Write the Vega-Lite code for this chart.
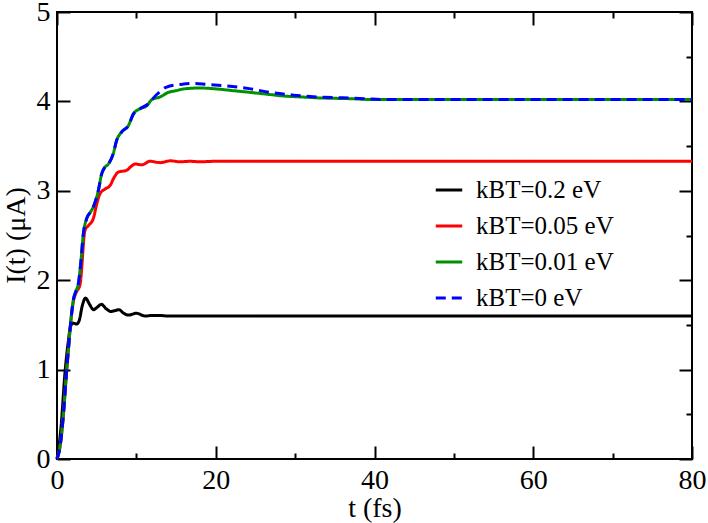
{
  "$schema": "https://vega.github.io/schema/vega-lite/v6.json",
  "width": 635,
  "height": 447,
  "autosize": "none",
  "padding": {"left": 57, "top": 12, "right": 16, "bottom": 64},
  "background": "white",
  "config": {
    "font": "Liberation Serif",
    "view": {"stroke": "black", "strokeWidth": 2},
    "style": {
      "guide-label": {"font": "Liberation Serif", "fontSize": 28, "fill": "black"},
      "guide-title": {"font": "Liberation Serif", "fontSize": 28, "fill": "black", "fontWeight": "normal"}
    },
    "axis": {
      "domain": false,
      "grid": false,
      "labelFlush": false,
      "tickColor": "black",
      "tickWidth": 2,
      "labelColor": "black",
      "titleColor": "black",
      "labelFont": "Liberation Serif",
      "titleFont": "Liberation Serif",
      "labelFontSize": 28,
      "titleFontSize": 28,
      "titleFontWeight": "normal"
    },
    "legend": {
      "labelFont": "Liberation Serif",
      "labelFontSize": 25,
      "labelColor": "black"
    }
  },
  "data": {
    "values": [
      {"t": 0, "I": 0, "T": "kBT=0.2 eV"},
      {"t": 0.5, "I": 0.35, "T": "kBT=0.2 eV"},
      {"t": 1.0, "I": 0.96, "T": "kBT=0.2 eV"},
      {"t": 1.4, "I": 1.3, "T": "kBT=0.2 eV"},
      {"t": 1.7, "I": 1.48, "T": "kBT=0.2 eV"},
      {"t": 2.0, "I": 1.52, "T": "kBT=0.2 eV"},
      {"t": 2.5, "I": 1.51, "T": "kBT=0.2 eV"},
      {"t": 2.8, "I": 1.55, "T": "kBT=0.2 eV"},
      {"t": 3.2, "I": 1.72, "T": "kBT=0.2 eV"},
      {"t": 3.6, "I": 1.8, "T": "kBT=0.2 eV"},
      {"t": 4.1, "I": 1.73, "T": "kBT=0.2 eV"},
      {"t": 4.6, "I": 1.67, "T": "kBT=0.2 eV"},
      {"t": 5.1, "I": 1.7, "T": "kBT=0.2 eV"},
      {"t": 5.6, "I": 1.73, "T": "kBT=0.2 eV"},
      {"t": 6.2, "I": 1.68, "T": "kBT=0.2 eV"},
      {"t": 6.8, "I": 1.65, "T": "kBT=0.2 eV"},
      {"t": 7.3, "I": 1.66, "T": "kBT=0.2 eV"},
      {"t": 7.8, "I": 1.67, "T": "kBT=0.2 eV"},
      {"t": 8.4, "I": 1.63, "T": "kBT=0.2 eV"},
      {"t": 9.0, "I": 1.61, "T": "kBT=0.2 eV"},
      {"t": 10.0, "I": 1.63, "T": "kBT=0.2 eV"},
      {"t": 11.1, "I": 1.6, "T": "kBT=0.2 eV"},
      {"t": 12.0, "I": 1.605, "T": "kBT=0.2 eV"},
      {"t": 13.0, "I": 1.605, "T": "kBT=0.2 eV"},
      {"t": 14.0, "I": 1.6, "T": "kBT=0.2 eV"},
      {"t": 20, "I": 1.6, "T": "kBT=0.2 eV"},
      {"t": 80, "I": 1.6, "T": "kBT=0.2 eV"},

      {"t": 0, "I": 0, "T": "kBT=0.05 eV"},
      {"t": 0.4, "I": 0.15, "T": "kBT=0.05 eV"},
      {"t": 0.8, "I": 0.49, "T": "kBT=0.05 eV"},
      {"t": 1.1, "I": 0.85, "T": "kBT=0.05 eV"},
      {"t": 1.43, "I": 1.22, "T": "kBT=0.05 eV"},
      {"t": 1.75, "I": 1.55, "T": "kBT=0.05 eV"},
      {"t": 2.06, "I": 1.76, "T": "kBT=0.05 eV"},
      {"t": 2.4, "I": 1.86, "T": "kBT=0.05 eV"},
      {"t": 2.9, "I": 1.95, "T": "kBT=0.05 eV"},
      {"t": 3.53, "I": 2.56, "T": "kBT=0.05 eV"},
      {"t": 3.95, "I": 2.61, "T": "kBT=0.05 eV"},
      {"t": 4.58, "I": 2.69, "T": "kBT=0.05 eV"},
      {"t": 5.0, "I": 2.85, "T": "kBT=0.05 eV"},
      {"t": 5.43, "I": 2.97, "T": "kBT=0.05 eV"},
      {"t": 6.06, "I": 3.02, "T": "kBT=0.05 eV"},
      {"t": 6.69, "I": 3.06, "T": "kBT=0.05 eV"},
      {"t": 7.2, "I": 3.15, "T": "kBT=0.05 eV"},
      {"t": 7.74, "I": 3.21, "T": "kBT=0.05 eV"},
      {"t": 8.79, "I": 3.23, "T": "kBT=0.05 eV"},
      {"t": 9.3, "I": 3.27, "T": "kBT=0.05 eV"},
      {"t": 9.84, "I": 3.3, "T": "kBT=0.05 eV"},
      {"t": 10.7, "I": 3.29, "T": "kBT=0.05 eV"},
      {"t": 11.7, "I": 3.33, "T": "kBT=0.05 eV"},
      {"t": 13.0, "I": 3.315, "T": "kBT=0.05 eV"},
      {"t": 14.3, "I": 3.335, "T": "kBT=0.05 eV"},
      {"t": 15.5, "I": 3.325, "T": "kBT=0.05 eV"},
      {"t": 16.8, "I": 3.33, "T": "kBT=0.05 eV"},
      {"t": 18.0, "I": 3.325, "T": "kBT=0.05 eV"},
      {"t": 20.0, "I": 3.33, "T": "kBT=0.05 eV"},
      {"t": 80, "I": 3.33, "T": "kBT=0.05 eV"},

      {"t": 0, "I": 0, "T": "kBT=0.01 eV"},
      {"t": 0.4, "I": 0.15, "T": "kBT=0.01 eV"},
      {"t": 0.8, "I": 0.49, "T": "kBT=0.01 eV"},
      {"t": 1.1, "I": 0.85, "T": "kBT=0.01 eV"},
      {"t": 1.43, "I": 1.22, "T": "kBT=0.01 eV"},
      {"t": 1.75, "I": 1.55, "T": "kBT=0.01 eV"},
      {"t": 2.06, "I": 1.78, "T": "kBT=0.01 eV"},
      {"t": 2.4, "I": 1.88, "T": "kBT=0.01 eV"},
      {"t": 2.69, "I": 1.96, "T": "kBT=0.01 eV"},
      {"t": 3.0, "I": 2.2, "T": "kBT=0.01 eV"},
      {"t": 3.32, "I": 2.52, "T": "kBT=0.01 eV"},
      {"t": 3.74, "I": 2.69, "T": "kBT=0.01 eV"},
      {"t": 4.2, "I": 2.76, "T": "kBT=0.01 eV"},
      {"t": 4.58, "I": 2.82, "T": "kBT=0.01 eV"},
      {"t": 5.2, "I": 3.0, "T": "kBT=0.01 eV"},
      {"t": 5.63, "I": 3.19, "T": "kBT=0.01 eV"},
      {"t": 6.0, "I": 3.26, "T": "kBT=0.01 eV"},
      {"t": 6.48, "I": 3.3, "T": "kBT=0.01 eV"},
      {"t": 7.1, "I": 3.42, "T": "kBT=0.01 eV"},
      {"t": 7.5, "I": 3.56, "T": "kBT=0.01 eV"},
      {"t": 8.16, "I": 3.66, "T": "kBT=0.01 eV"},
      {"t": 9.0, "I": 3.73, "T": "kBT=0.01 eV"},
      {"t": 9.63, "I": 3.86, "T": "kBT=0.01 eV"},
      {"t": 10.5, "I": 3.92, "T": "kBT=0.01 eV"},
      {"t": 11.3, "I": 3.95, "T": "kBT=0.01 eV"},
      {"t": 11.95, "I": 4.02, "T": "kBT=0.01 eV"},
      {"t": 13.0, "I": 4.05, "T": "kBT=0.01 eV"},
      {"t": 14.0, "I": 4.1, "T": "kBT=0.01 eV"},
      {"t": 15.0, "I": 4.12, "T": "kBT=0.01 eV"},
      {"t": 16.0, "I": 4.14, "T": "kBT=0.01 eV"},
      {"t": 18.0, "I": 4.15, "T": "kBT=0.01 eV"},
      {"t": 20.0, "I": 4.14, "T": "kBT=0.01 eV"},
      {"t": 22.2, "I": 4.12, "T": "kBT=0.01 eV"},
      {"t": 24.4, "I": 4.1, "T": "kBT=0.01 eV"},
      {"t": 26.5, "I": 4.08, "T": "kBT=0.01 eV"},
      {"t": 28.6, "I": 4.06, "T": "kBT=0.01 eV"},
      {"t": 30.7, "I": 4.05, "T": "kBT=0.01 eV"},
      {"t": 32.8, "I": 4.04, "T": "kBT=0.01 eV"},
      {"t": 37.0, "I": 4.03, "T": "kBT=0.01 eV"},
      {"t": 40.0, "I": 4.02, "T": "kBT=0.01 eV"},
      {"t": 80, "I": 4.02, "T": "kBT=0.01 eV"},

      {"t": 0, "I": 0, "T": "kBT=0 eV"},
      {"t": 0.4, "I": 0.15, "T": "kBT=0 eV"},
      {"t": 0.8, "I": 0.49, "T": "kBT=0 eV"},
      {"t": 1.1, "I": 0.85, "T": "kBT=0 eV"},
      {"t": 1.43, "I": 1.22, "T": "kBT=0 eV"},
      {"t": 1.75, "I": 1.55, "T": "kBT=0 eV"},
      {"t": 2.06, "I": 1.78, "T": "kBT=0 eV"},
      {"t": 2.4, "I": 1.88, "T": "kBT=0 eV"},
      {"t": 2.69, "I": 1.96, "T": "kBT=0 eV"},
      {"t": 3.0, "I": 2.2, "T": "kBT=0 eV"},
      {"t": 3.32, "I": 2.52, "T": "kBT=0 eV"},
      {"t": 3.74, "I": 2.69, "T": "kBT=0 eV"},
      {"t": 4.2, "I": 2.76, "T": "kBT=0 eV"},
      {"t": 4.58, "I": 2.82, "T": "kBT=0 eV"},
      {"t": 5.2, "I": 3.0, "T": "kBT=0 eV"},
      {"t": 5.63, "I": 3.19, "T": "kBT=0 eV"},
      {"t": 6.0, "I": 3.26, "T": "kBT=0 eV"},
      {"t": 6.48, "I": 3.3, "T": "kBT=0 eV"},
      {"t": 7.1, "I": 3.42, "T": "kBT=0 eV"},
      {"t": 7.5, "I": 3.56, "T": "kBT=0 eV"},
      {"t": 8.16, "I": 3.66, "T": "kBT=0 eV"},
      {"t": 9.0, "I": 3.73, "T": "kBT=0 eV"},
      {"t": 9.63, "I": 3.86, "T": "kBT=0 eV"},
      {"t": 10.5, "I": 3.92, "T": "kBT=0 eV"},
      {"t": 11.3, "I": 3.96, "T": "kBT=0 eV"},
      {"t": 12.6, "I": 4.08, "T": "kBT=0 eV"},
      {"t": 13.8, "I": 4.16, "T": "kBT=0 eV"},
      {"t": 15.6, "I": 4.19, "T": "kBT=0 eV"},
      {"t": 17.0, "I": 4.2, "T": "kBT=0 eV"},
      {"t": 18.9, "I": 4.19, "T": "kBT=0 eV"},
      {"t": 21.8, "I": 4.17, "T": "kBT=0 eV"},
      {"t": 24.4, "I": 4.14, "T": "kBT=0 eV"},
      {"t": 26.9, "I": 4.1, "T": "kBT=0 eV"},
      {"t": 29.8, "I": 4.07, "T": "kBT=0 eV"},
      {"t": 32.8, "I": 4.05, "T": "kBT=0 eV"},
      {"t": 36.0, "I": 4.04, "T": "kBT=0 eV"},
      {"t": 38.8, "I": 4.03, "T": "kBT=0 eV"},
      {"t": 42.0, "I": 4.02, "T": "kBT=0 eV"},
      {"t": 80, "I": 4.02, "T": "kBT=0 eV"}
    ]
  },
  "layer": [
    {
      "mark": {"type": "line", "strokeWidth": 3, "interpolate": "monotone"},
      "encoding": {
        "x": {
          "field": "t",
          "type": "quantitative",
          "scale": {"domain": [0, 80], "nice": false},
          "axis": {
            "orient": "bottom",
            "title": "t (fs)",
            "values": [0, 10, 20, 30, 40, 50, 60, 70, 80],
            "format": "d",
            "labelFlush": false,
            "labelFont": "Liberation Serif",
            "labelFontSize": 28,
            "labelExpr": "datum.value % 20 === 0 ? datum.label : ''",
            "tickSize": {"expr": "datum.value % 20 === 0 ? -13 : -6"},
            "labelPadding": 20,
            "titlePadding": 0
          }
        },
        "y": {
          "field": "I",
          "type": "quantitative",
          "scale": {"domain": [0, 5], "nice": false},
          "axis": {
            "orient": "left",
            "title": "I(t) (μA)",
            "values": [0, 0.5, 1, 1.5, 2, 2.5, 3, 3.5, 4, 4.5, 5],
            "format": "d",
            "labelFlush": false,
            "labelFont": "Liberation Serif",
            "labelFontSize": 28,
            "labelExpr": "datum.value % 1 === 0 ? datum.label : ''",
            "tickSize": {"expr": "datum.value % 1 === 0 ? -13 : -6"},
            "labelPadding": 20,
            "titleX": -27,
            "titleY": 223
          }
        },
        "color": {
          "field": "T",
          "type": "nominal",
          "title": null,
          "scale": {
            "domain": ["kBT=0.2 eV", "kBT=0.05 eV", "kBT=0.01 eV", "kBT=0 eV"],
            "range": ["#000000", "#ff0000", "#009000", "#0000ff"]
          },
          "legend": {
            "orient": "none",
            "legendX": 377,
            "legendY": 163,
            "padding": 0,
            "symbolType": "stroke",
            "symbolSize": 700,
            "symbolStrokeWidth": 3,
            "labelOffset": 12,
            "rowPadding": 8
          }
        },
        "strokeDash": {
          "field": "T",
          "type": "nominal",
          "title": null,
          "scale": {
            "domain": ["kBT=0.2 eV", "kBT=0.05 eV", "kBT=0.01 eV", "kBT=0 eV"],
            "range": [[1, 0], [1, 0], [1, 0], [10, 6]]
          },
          "legend": {
            "orient": "none",
            "legendX": 377,
            "legendY": 163,
            "padding": 0,
            "symbolType": "stroke",
            "symbolSize": 700,
            "symbolStrokeWidth": 3,
            "labelOffset": 12,
            "rowPadding": 8
          }
        }
      }
    },
    {
      "mark": {"type": "line", "opacity": 0},
      "encoding": {
        "x": {
          "field": "t",
          "type": "quantitative",
          "scale": {"domain": [0, 80], "nice": false},
          "axis": {
            "orient": "top",
            "title": null,
            "labels": false,
            "values": [0, 10, 20, 30, 40, 50, 60, 70, 80],
            "tickSize": {"expr": "datum.value % 20 === 0 ? -13 : -6"}
          }
        },
        "y": {
          "field": "I",
          "type": "quantitative",
          "scale": {"domain": [0, 5], "nice": false},
          "axis": {
            "orient": "right",
            "title": null,
            "labels": false,
            "values": [0, 0.5, 1, 1.5, 2, 2.5, 3, 3.5, 4, 4.5, 5],
            "tickSize": {"expr": "datum.value % 1 === 0 ? -13 : -6"}
          }
        },
        "detail": {"field": "T", "type": "nominal"}
      }
    }
  ],
  "resolve": {"axis": {"x": "independent", "y": "independent"}}
}
